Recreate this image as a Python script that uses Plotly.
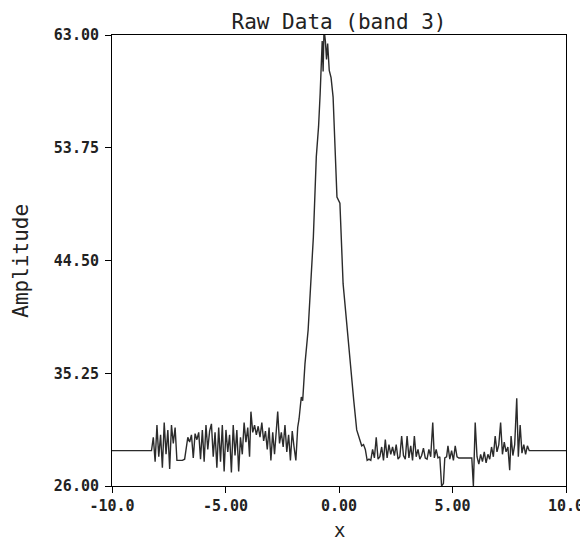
import plotly.graph_objects as go

# ---- data ----
x_left = [-10.0, -8.26, -8.18, -8.10, -8.02, -7.94, -7.86, -7.78, -7.70, -7.62, -7.54, -7.46,
          -7.38, -7.30, -7.22, -7.14, -7.00, -6.90, -6.80, -6.66, -6.58, -6.50, -6.42, -6.34,
          -6.26, -6.18, -6.10, -6.02, -5.94, -5.86, -5.78, -5.70, -5.62, -5.54, -5.46, -5.38,
          -5.30, -5.22, -5.14, -5.06, -4.98, -4.90, -4.82, -4.74, -4.66, -4.58, -4.50, -4.42,
          -4.34, -4.26, -4.18, -4.10, -4.02, -3.94, -3.88, -3.80, -3.72, -3.64, -3.56, -3.48,
          -3.40, -3.32, -3.24, -3.16, -3.08, -3.00, -2.92, -2.84, -2.76, -2.70, -2.62, -2.54,
          -2.46, -2.38, -2.30, -2.22, -2.14, -2.06, -1.98, -1.90, -1.82]
y_left = [28.9, 28.9, 30.0, 28.0, 31.0, 28.4, 30.2, 27.5, 31.2, 28.6, 30.6, 27.4,
          31.0, 29.5, 30.8, 28.1, 28.1, 28.1, 28.2, 30.0, 29.6, 30.2, 28.3, 30.3,
          29.8, 30.4, 28.2, 30.6, 28.0, 31.0, 29.0, 30.5, 31.1, 28.4, 30.4, 27.5,
          30.8, 28.0, 31.0, 27.2, 30.6, 28.8, 30.2, 27.1, 31.0, 28.5, 30.6, 27.2,
          30.0, 28.6, 31.2, 29.6, 30.8, 28.4, 32.1, 30.4, 31.0, 30.2, 30.9, 30.0,
          31.2, 29.7, 30.5, 29.0, 30.8, 28.1, 30.4, 28.6, 30.6, 32.1, 29.5, 30.4,
          29.2, 31.0, 28.8, 30.2, 28.1, 30.5, 29.2, 28.1, 30.8]

x_peak = [-1.76, -1.70, -1.66, -1.60, -1.50, -1.36, -1.25, -1.13, -1.00, -0.90, -0.83,
          -0.78, -0.74, -0.70, -0.66, -0.60, -0.55, -0.50, -0.43, -0.35, -0.26, -0.20,
          -0.09, 0.04, 0.12, 0.18, 0.22, 0.35, 0.48, 0.65, 0.78, 0.91]
y_peak = [31.5, 32.6, 33.3, 33.0, 36.0, 38.8, 42.5, 46.4, 53.0, 55.5, 58.2,
          61.8, 62.5, 60.0, 63.5, 62.5, 61.0, 62.3, 60.1, 59.5, 57.9, 55.0,
          49.7, 49.2, 45.0, 42.6, 41.8, 39.0, 36.1, 33.0, 30.6, 29.8]

x_right = [1.00, 1.08, 1.16, 1.24, 1.32, 1.40, 1.48, 1.56, 1.64, 1.72, 1.80, 1.88,
           1.96, 2.04, 2.12, 2.20, 2.28, 2.36, 2.44, 2.52, 2.60, 2.68, 2.76, 2.84,
           2.92, 3.00, 3.08, 3.16, 3.24, 3.32, 3.40, 3.48, 3.56, 3.64, 3.72, 3.80,
           3.88, 3.96, 4.04, 4.13, 4.20, 4.28, 4.36, 4.44, 4.52, 4.60, 4.66, 4.74,
           4.80, 4.88, 4.96, 5.04, 5.12, 5.20, 5.28, 5.40, 5.55, 5.70, 5.85, 5.92,
           6.00, 6.08, 6.16, 6.24, 6.32, 6.40, 6.48, 6.56, 6.64, 6.72, 6.80, 6.88,
           6.96, 7.04, 7.12, 7.20, 7.28, 7.36, 7.44, 7.52, 7.58, 7.66, 7.74, 7.83,
           7.90, 7.98, 8.06, 8.14, 8.22, 8.30, 8.38, 10.0]
y_right = [29.3, 29.4, 29.0, 28.1, 28.2, 28.1, 29.0, 28.3, 30.0, 28.2, 28.4, 29.2,
           28.1, 29.8, 28.3, 29.4, 28.6, 29.2, 28.5, 29.4, 28.2, 28.4, 30.1, 28.5,
           28.2, 30.1, 28.3, 29.3, 28.1, 30.1, 28.4, 29.0, 28.2, 28.5, 29.1, 28.3,
           28.2, 29.0, 28.4, 31.2, 28.3, 29.0, 28.3, 28.4, 26.0, 26.2, 28.3, 28.4,
           29.3, 28.2, 28.9, 28.1, 29.3, 28.4, 28.3, 28.3, 28.3, 28.3, 28.3, 26.0,
           31.2, 28.4, 27.8, 28.6, 28.0, 28.8, 27.9, 28.6, 28.2, 29.2, 28.4, 30.1,
           28.8, 29.4, 31.2, 28.6, 29.6, 28.8, 29.2, 27.3, 30.1, 28.5, 29.4, 33.2,
           28.4, 31.0, 28.7, 29.4, 28.6, 29.3, 28.9, 28.9]

x_ticks = [-10, -5, 0, 5, 10]
x_ticklabels = ["-10.0", "-5.00", "0.00", "5.00", "10.0"]
y_ticks = [26.0, 35.25, 44.5, 53.75, 63.0]
y_ticklabels = ["26.00", "35.25", "44.50", "53.75", "63.00"]

xs = x_left + x_peak + x_right
ys = y_left + y_peak + y_right

FONT = "DejaVu Sans Mono"

# page body has an 8px margin; the plot box is placed to match the window
W, H = 588, 535
L, R, T, B = 104, 24, 27, 57
PW, PH = W - L - R, H - T - B

fig = go.Figure()
fig.add_trace(go.Scatter(x=xs, y=ys, mode="lines",
                         line=dict(color="#2b2b2b", width=1.4),
                         showlegend=False, hoverinfo="skip"))

axis_common = dict(showline=True, linecolor="black", linewidth=1, mirror=True,
                   showgrid=False, zeroline=False, ticks="outside", ticklen=6,
                   tickcolor="black", tickwidth=1, ticklabeloverflow="allow",
                   tickfont=dict(family=FONT, size=15, color="#222", weight="bold"))

fig.update_xaxes(range=[-10, 10], tickvals=x_ticks, ticktext=x_ticklabels, **axis_common)
fig.update_yaxes(range=[26, 63], tickvals=y_ticks, ticktext=y_ticklabels,
                 ticklabelstandoff=3, **axis_common)

fig.update_layout(
    width=W, height=H,
    margin=dict(l=L, r=R, t=T, b=B),
    paper_bgcolor="white", plot_bgcolor="white",
    title=dict(text="Raw Data (band 3)", x=0.5, xref="paper", y=1 - 14 / H,
               yref="container", xanchor="center", yanchor="middle",
               font=dict(family=FONT, size=21, color="#222")),
    annotations=[
        dict(text="Amplitude", xref="paper", yref="paper",
             x=-(L - 11) / PW, y=0.5, textangle=-90,
             showarrow=False, xanchor="center", yanchor="middle",
             font=dict(family=FONT, size=21, color="#222")),
        dict(text="x", xref="paper", yref="paper",
             x=0.5, y=-B / PH, showarrow=False,
             xanchor="center", yanchor="bottom",
             font=dict(family=FONT, size=19, color="#222")),
    ],
)

fig.write_html("out.html")
